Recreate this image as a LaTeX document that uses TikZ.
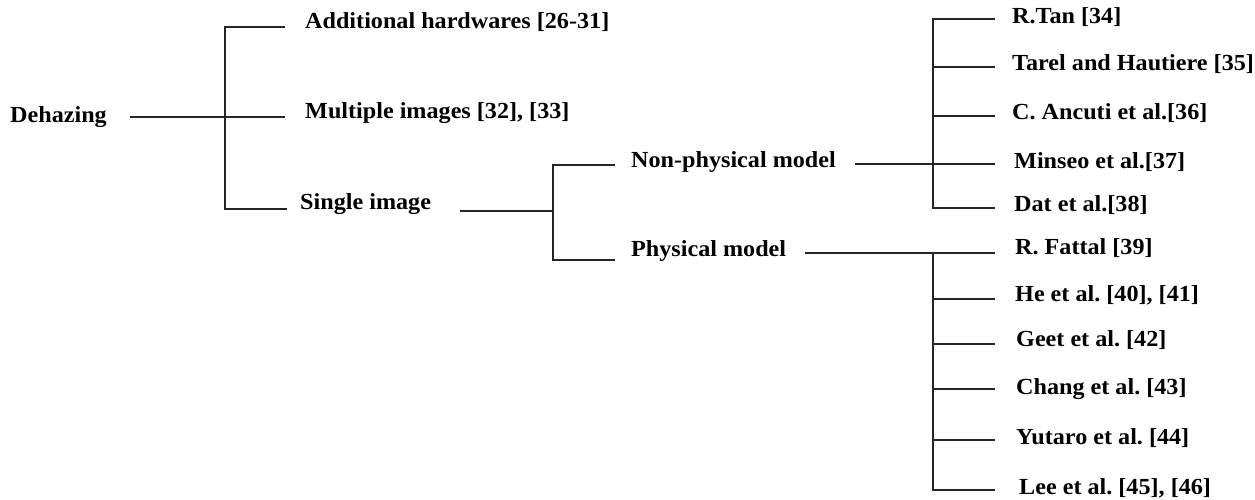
\documentclass[tikz,border=0pt]{standalone}
\usepackage{fontspec}
\setmainfont{Liberation Serif}
\newfontfamily\lblfont[FakeStretch=1.05]{Liberation Serif}
\frenchspacing
\begin{document}
\begin{tikzpicture}[x=1pt,y=-1pt,
  lbl/.style={anchor=west, inner sep=0pt, font=\lblfont\bfseries\fontsize{23}{27}\selectfont},
  ln/.style={line width=1.2pt, draw=black!85}]
\useasboundingbox (0,0) rectangle (1255,499);
% level 0
\node[lbl] (dh) at (10,117) {Dehazing};
% level 1
\node[lbl] (ah) at (305,22) {Additional hardwares [26-31]};
\node[lbl] (mi) at (305,113) {Multiple images [32], [33]};
\node[lbl] (si) at (300,204) {Single image};
% level 2
\node[lbl] (np) at (631,162) {Non-physical model};
\node[lbl] (pm) at (631,251) {Physical model};
% leaves non-physical
\node[lbl] (n1) at (1012,17) {R.Tan [34]};
\node[lbl] (n2) at (1012,64) {Tarel and Hautiere [35]};
\node[lbl] (n3) at (1012,113) {C. Ancuti et al.[36]};
\node[lbl] (n4) at (1014,162) {Minseo et al.[37]};
\node[lbl] (n5) at (1014,205) {Dat et al.[38]};
% leaves physical
\node[lbl] (p1) at (1015,248) {R. Fattal [39]};
\node[lbl] (p2) at (1015,295) {He et al. [40], [41]};
\node[lbl] (p3) at (1016,340) {Geet et al. [42]};
\node[lbl] (p4) at (1016,389) {Chang et al. [43]};
\node[lbl] (p5) at (1016,438) {Yutaro et al. [44]};
\node[lbl] (p6) at (1019,488) {Lee et al. [45], [46]};
% coordinates for tree 1
\coordinate (d0) at (130,117);
\coordinate (t1) at (225,27);
\coordinate (b1) at (225,209);
\coordinate (e1) at (285,27);
\coordinate (e2) at (285,117);
\coordinate (e3) at (287,209);
\draw[ln] (d0) -- (e2);
\draw[ln] (e1) -- (t1) -- (b1) -- (e3);
% tree 2
\coordinate (s0) at (460,211);
\coordinate (j2) at (553,211);
\coordinate (t2) at (553,165);
\coordinate (b2) at (553,260);
\coordinate (f1) at (615,165);
\coordinate (f2) at (615,260);
\draw[ln] (s0) -- (j2);
\draw[ln] (f1) -- (t2) -- (b2) -- (f2);
% tree 3 (non-physical)
\coordinate (np0) at (855,164);
\coordinate (t3) at (933,19);
\coordinate (b3) at (933,208);
\coordinate (g1) at (995,19);
\coordinate (g2) at (995,67);
\coordinate (g3) at (995,116);
\coordinate (g4) at (995,164);
\coordinate (g5) at (995,208);
\draw[ln] (np0) -- (g4);
\draw[ln] (g1) -- (t3) -- (b3) -- (g5);
\draw[ln] (t3 |- g2) -- (g2);
\draw[ln] (t3 |- g3) -- (g3);
% tree 4 (physical)
\coordinate (pm0) at (805,253);
\coordinate (t4) at (933,253);
\coordinate (b4) at (933,490);
\coordinate (h1) at (995,253);
\coordinate (h2) at (995,299);
\coordinate (h3) at (995,344);
\coordinate (h4) at (995,389);
\coordinate (h5) at (995,440);
\coordinate (h6) at (995,490);
\draw[ln] (pm0) -- (h1);
\draw[ln] (t4) -- (b4) -- (h6);
\foreach \h in {h2,h3,h4,h5} \draw[ln] (t4 |- \h) -- (\h);
\end{tikzpicture}
\end{document}
